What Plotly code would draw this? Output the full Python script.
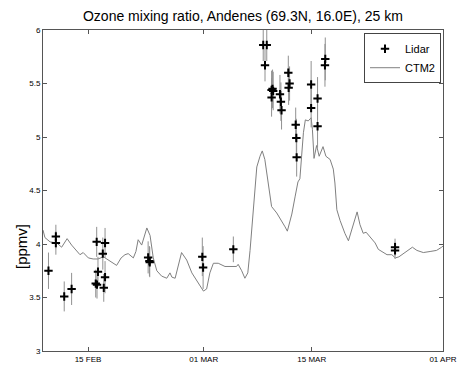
import plotly.graph_objects as go

# ---- Data -------------------------------------------------------------
lidar_time = [
    "2000-02-09 21:00", "2000-02-10 20:00", "2000-02-10 20:00",
    "2000-02-11 22:00", "2000-02-12 21:00",
    "2000-02-16 00:00", "2000-02-16 03:00", "2000-02-16 04:00", "2000-02-16 07:00",
    "2000-02-16 22:00", "2000-02-17 01:00", "2000-02-17 05:00", "2000-02-17 05:00",
    "2000-02-22 19:00", "2000-02-22 23:00", "2000-02-23 00:00",
    "2000-02-29 19:30", "2000-02-29 22:00",
    "2000-03-04 20:00",
    "2000-03-08 17:00", "2000-03-08 22:30", "2000-03-09 04:00",
    "2000-03-09 19:00", "2000-03-09 19:00", "2000-03-09 22:00", "2000-03-10 00:00",
    "2000-03-10 21:00", "2000-03-11 00:00", "2000-03-11 02:00",
    "2000-03-11 23:00", "2000-03-12 00:00", "2000-03-12 03:00",
    "2000-03-12 22:00", "2000-03-13 00:00", "2000-03-13 01:00",
    "2000-03-14 22:00", "2000-03-14 22:00",
    "2000-03-15 18:00", "2000-03-15 18:00",
    "2000-03-16 17:00", "2000-03-16 18:00",
    "2000-03-25 19:00", "2000-03-25 19:00",
]
lidar_ozone = [
    3.75, 4.07, 4.01,
    3.51, 3.58,
    3.63, 4.02, 3.62, 3.74,
    3.91, 3.59, 4.01, 3.69,
    3.875, 3.84, 3.83,
    3.88, 3.78,
    3.95,
    5.86, 5.67, 5.86,
    5.44, 5.37, 5.45, 5.43,
    5.40, 5.33, 5.25,
    5.60, 5.46, 5.50,
    5.115, 4.99, 4.81,
    5.49, 5.27,
    5.36, 5.10,
    5.67, 5.73,
    3.97, 3.94,
]
lidar_err = [
    0.17, 0.11, 0.11,
    0.14, 0.15,
    0.13, 0.14, 0.13, 0.14,
    0.15, 0.13, 0.14, 0.15,
    0.15, 0.14, 0.14,
    0.18, 0.2,
    0.12,
    0.15, 0.15, 0.15,
    0.18, 0.18, 0.18, 0.18,
    0.18, 0.18, 0.18,
    0.16, 0.16, 0.16,
    0.16, 0.18, 0.18,
    0.22, 0.18,
    0.2, 0.2,
    0.2, 0.2,
    0.08, 0.08,
]

ctm2_time = [
    "2000-02-09 04:00", "2000-02-09 10:00", "2000-02-10 02:00", "2000-02-10 23:00",
    "2000-02-11 14:00", "2000-02-12 07:00", "2000-02-12 21:00", "2000-02-13 13:00",
    "2000-02-13 23:00", "2000-02-14 09:00", "2000-02-15 01:00", "2000-02-15 16:00",
    "2000-02-16 07:00", "2000-02-17 00:00", "2000-02-17 15:00", "2000-02-18 03:00",
    "2000-02-18 17:00", "2000-02-19 07:00", "2000-02-19 19:00", "2000-02-20 05:00",
    "2000-02-20 21:00", "2000-02-21 05:00", "2000-02-21 12:00", "2000-02-21 23:00",
    "2000-02-22 15:00", "2000-02-23 01:00", "2000-02-23 11:00", "2000-02-23 22:00",
    "2000-02-24 13:00", "2000-02-25 05:00", "2000-02-25 15:00", "2000-02-25 21:00",
    "2000-02-26 07:00", "2000-02-27 03:00", "2000-02-27 19:00", "2000-02-28 11:00",
    "2000-02-29 07:00", "2000-02-29 23:00", "2000-03-01 09:00", "2000-03-01 19:00",
    "2000-03-02 06:00", "2000-03-02 21:00", "2000-03-03 18:00", "2000-03-04 15:00",
    "2000-03-05 06:00", "2000-03-05 11:00", "2000-03-05 22:00", "2000-03-06 08:00",
    "2000-03-06 17:00", "2000-03-07 00:00", "2000-03-07 10:00", "2000-03-07 21:00",
    "2000-03-08 07:00", "2000-03-08 14:00", "2000-03-08 22:00", "2000-03-09 09:00",
    "2000-03-09 19:00", "2000-03-10 11:00", "2000-03-11 02:00", "2000-03-11 13:00",
    "2000-03-11 20:00", "2000-03-12 10:00", "2000-03-12 20:00", "2000-03-13 05:00",
    "2000-03-13 11:00", "2000-03-13 17:00", "2000-03-13 22:00", "2000-03-14 04:00",
    "2000-03-14 13:00", "2000-03-14 22:00", "2000-03-15 02:00", "2000-03-15 07:00",
    "2000-03-15 15:00", "2000-03-15 23:00", "2000-03-16 11:00", "2000-03-16 20:00",
    "2000-03-17 09:00", "2000-03-17 19:00", "2000-03-18 00:00", "2000-03-18 06:00",
    "2000-03-18 16:00", "2000-03-19 07:00", "2000-03-19 18:00", "2000-03-20 05:00",
    "2000-03-20 21:00", "2000-03-21 06:00", "2000-03-21 16:00", "2000-03-22 01:00",
    "2000-03-22 13:00", "2000-03-23 05:00", "2000-03-23 15:00", "2000-03-24 02:00",
    "2000-03-24 18:00", "2000-03-25 09:00", "2000-03-25 20:00", "2000-03-26 07:00",
    "2000-03-26 21:00", "2000-03-27 12:00", "2000-03-28 01:00", "2000-03-28 15:00",
    "2000-03-29 11:00", "2000-03-30 08:00", "2000-03-31 04:00", "2000-03-31 20:00",
    "2000-04-01 00:00",
]
ctm2_ozone = [
    4.13, 4.06, 4.02, 4.01,
    3.97, 4.05, 3.99, 3.93,
    3.90, 3.92, 3.87, 3.86,
    3.86, 3.88, 3.85, 3.83,
    3.80, 3.87, 3.90, 3.91,
    3.87, 3.93, 4.04, 3.99,
    4.15, 4.08, 3.87, 3.75,
    3.70, 3.68, 3.73, 3.69,
    3.68, 3.92, 3.85, 3.73,
    3.64, 3.56, 3.58, 3.73,
    3.82, 3.82, 3.79, 3.79,
    3.79, 3.81, 3.75, 3.68,
    3.73, 3.94, 4.35, 4.72,
    4.82, 4.87, 4.79, 4.57,
    4.35, 4.29, 4.22, 4.16,
    4.12, 4.28, 4.44, 4.58,
    4.61, 4.88, 5.04, 5.16,
    5.15, 5.18, 5.07, 4.80,
    4.92, 4.82, 4.91, 4.82,
    4.79, 4.70, 4.57, 4.32,
    4.22, 4.10, 4.03, 4.14,
    4.30, 4.18, 4.10, 4.11,
    4.07, 4.01, 3.95, 3.93,
    3.90, 3.90, 3.87, 3.88,
    3.91, 3.95, 3.97, 3.94,
    3.92, 3.93, 3.94, 3.97,
    3.98,
]

x_tick_vals = ["2000-02-15", "2000-03-01", "2000-03-15", "2000-04-01"]
x_tick_text = ["15 FEB", "01 MAR", "15 MAR", "01 APR"]
y_tick_vals = [3, 3.5, 4, 4.5, 5, 5.5, 6]
y_tick_text = ["3", "3.5", "4", "4.5", "5", "5.5", "6"]

x_range = ["2000-02-09 04:00", "2000-04-01 00:10"]
y_range = [3, 6]

title_text = "Ozone mixing ratio, Andenes (69.3N, 16.0E), 25 km"

# ---- Figure -----------------------------------------------------------
FONT = "Liberation Sans, Arial, Helvetica, sans-serif"
AXIS_COLOR = "#555555"

fig = go.Figure()

fig.add_trace(go.Scatter(
    x=ctm2_time, y=ctm2_ozone, name="CTM2", mode="lines",
    line=dict(color="#808080", width=1),
))

fig.add_trace(go.Scatter(
    x=lidar_time, y=lidar_ozone, name="Lidar", mode="markers",
    marker=dict(symbol="cross-thin", size=6, color="black",
                line=dict(color="black", width=2)),
    error_y=dict(type="data", array=lidar_err, visible=True,
                 color="#909090", thickness=1, width=0),
))

fig.update_layout(
    width=468, height=377,
    margin=dict(l=43, r=25, t=30, b=26, autoexpand=False),
    paper_bgcolor="white", plot_bgcolor="white",
    font=dict(family=FONT, color="black"),
    title=dict(text=title_text, x=0.519, xanchor="center",
               y=1 - 16 / 377, yanchor="middle",
               font=dict(size=14, family=FONT, color="black")),
    showlegend=True,
    legend=dict(x=0.995, y=0.99, xanchor="right", yanchor="top",
                bordercolor="#444444", borderwidth=1, bgcolor="white",
                font=dict(size=11, family=FONT, color="black"),
                traceorder="reversed", itemwidth=30,
                tracegroupgap=0),
    xaxis=dict(
        type="date", range=x_range,
        tickmode="array", tickvals=x_tick_vals, ticktext=x_tick_text,
        ticks="inside", ticklen=4, tickcolor=AXIS_COLOR,
        showline=True, linecolor=AXIS_COLOR, linewidth=1, mirror="allticks",
        showgrid=False, zeroline=False, ticklabeloverflow="allow",
        tickfont=dict(size=8, family=FONT, color="black"),
        automargin=False,
    ),
    yaxis=dict(
        range=y_range,
        tickmode="array", tickvals=y_tick_vals, ticktext=y_tick_text,
        ticks="inside", ticklen=4, tickcolor=AXIS_COLOR,
        showline=True, linecolor=AXIS_COLOR, linewidth=1, mirror="allticks",
        showgrid=False, zeroline=False,
        tickfont=dict(size=8, family=FONT, color="black"),
        automargin=False,
    ),
    annotations=[dict(
        text="[ppmv]", textangle=-90, showarrow=False,
        xref="paper", yref="paper", x=-0.0525, y=0.324,
        xanchor="center", yanchor="middle",
        font=dict(size=15, family=FONT, color="black"),
    )],
)

fig.write_html(
    "out.html",
    config={"displayModeBar": False},
    post_script="document.body.style.margin='0';document.body.style.overflow='hidden';",
)
